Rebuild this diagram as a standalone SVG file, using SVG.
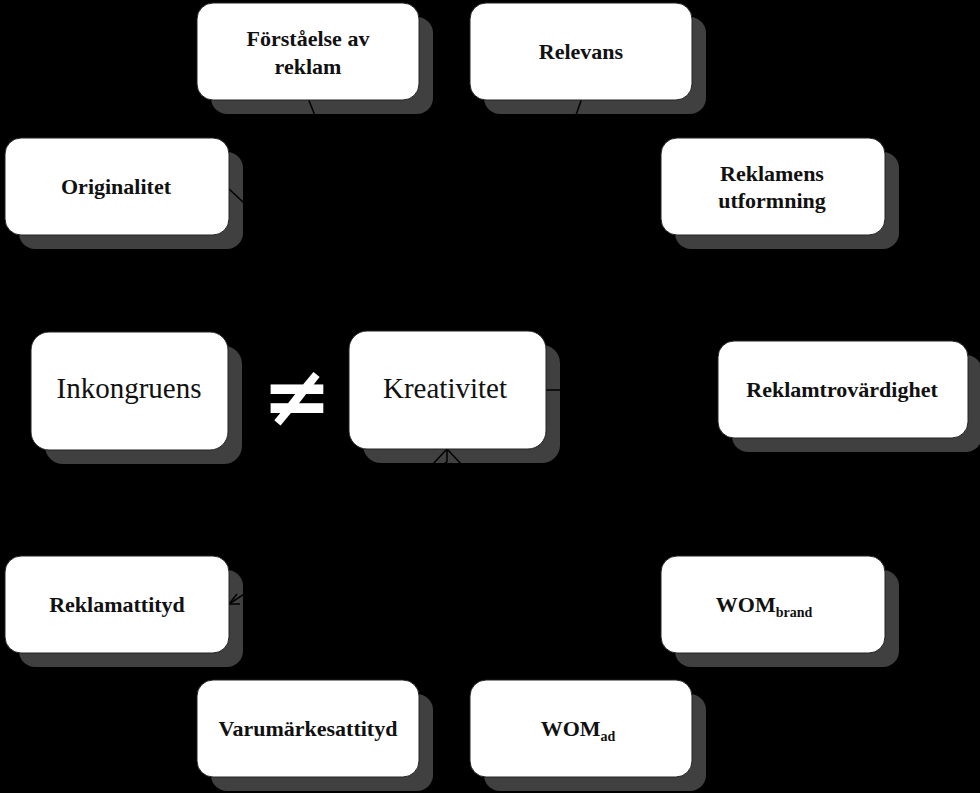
<svg xmlns="http://www.w3.org/2000/svg" width="980" height="793" viewBox="0 0 980 793">
<style>
.sh{fill:#404040}
.bx{fill:#fff;stroke:#222;stroke-width:1}
.t{font-family:"Liberation Serif",serif;font-weight:bold;font-size:22px;fill:#111;text-anchor:middle}
.tb{font-family:"Liberation Serif",serif;font-size:29px;fill:#111;text-anchor:middle}
.c{stroke:#000;stroke-width:1.5;fill:none}
</style>
<rect width="980" height="793" fill="#000"/>
<g id="shadows">
<rect class="sh" x="211" y="17" width="222" height="97" rx="16"/>
<rect class="sh" x="484" y="17" width="222" height="97" rx="16"/>
<rect class="sh" x="19" y="152" width="224" height="97" rx="16"/>
<rect class="sh" x="675" y="152" width="224" height="97" rx="16"/>
<rect class="sh" x="45" y="346" width="197" height="118" rx="18"/>
<rect class="sh" x="363" y="345" width="197" height="118" rx="18"/>
<rect class="sh" x="732" y="355" width="250" height="97" rx="16"/>
<rect class="sh" x="19" y="570" width="224" height="97" rx="16"/>
<rect class="sh" x="675" y="570" width="224" height="97" rx="16"/>
<rect class="sh" x="211" y="694" width="222" height="97" rx="16"/>
<rect class="sh" x="484" y="694" width="222" height="97" rx="16"/>
</g>
<g id="connectors" class="c">
<line x1="308" y1="98" x2="400" y2="331"/>
<line x1="582" y1="98" x2="500" y2="331"/>
<line x1="228" y1="188" x2="380" y2="331"/>
<line x1="546" y1="390" x2="718" y2="390"/>
<line x1="447" y1="449" x2="447" y2="462"/>
<line x1="447" y1="449" x2="432" y2="465"/>
<line x1="447" y1="449" x2="462" y2="465"/>
<line x1="229" y1="604" x2="447" y2="462"/>
<line x1="229" y1="604" x2="237" y2="594"/>
<line x1="229" y1="604" x2="240" y2="604"/>
</g>
<g id="n1"><rect class="bx" x="197" y="3" width="222" height="97" rx="16"/><text class="t" x="308" y="46">Förståelse av</text><text class="t" x="308" y="74">reklam</text></g>
<g id="n2"><rect class="bx" x="470" y="3" width="222" height="97" rx="16"/><text class="t" x="581" y="59">Relevans</text></g>
<g id="n3"><rect class="bx" x="5" y="138" width="224" height="97" rx="16"/><text class="t" x="116" y="194">Originalitet</text></g>
<g id="n4"><rect class="bx" x="661" y="138" width="224" height="97" rx="16"/><text class="t" x="772" y="181">Reklamens</text><text class="t" x="772" y="208">utformning</text></g>
<g id="n5"><rect class="bx" x="31" y="332" width="197" height="118" rx="18"/><text class="tb" x="129" y="398">Inkongruens</text></g>
<g id="neq"><text x="297" y="425" style="font-family:'DejaVu Sans',sans-serif;font-weight:bold;font-size:84px;fill:#fff;text-anchor:middle">≠</text></g>
<g id="n6"><rect class="bx" x="349" y="331" width="197" height="118" rx="18"/><text class="tb" x="445" y="398">Kreativitet</text></g>
<g id="n7"><rect class="bx" x="718" y="341" width="250" height="97" rx="16"/><text class="t" x="842" y="397">Reklamtrovärdighet</text></g>
<g id="n8"><rect class="bx" x="5" y="556" width="224" height="97" rx="16"/><text class="t" x="117" y="612">Reklamattityd</text></g>
<g id="n9"><rect class="bx" x="661" y="556" width="224" height="97" rx="16"/><text class="t" x="764" y="612">WOM<tspan font-size="14" dy="5">brand</tspan></text></g>
<g id="n10"><rect class="bx" x="197" y="680" width="222" height="97" rx="16"/><text class="t" x="308" y="736">Varumärkesattityd</text></g>
<g id="n11"><rect class="bx" x="470" y="680" width="222" height="97" rx="16"/><text class="t" x="578" y="736">WOM<tspan font-size="14" dy="5">ad</tspan></text></g>
</svg>
